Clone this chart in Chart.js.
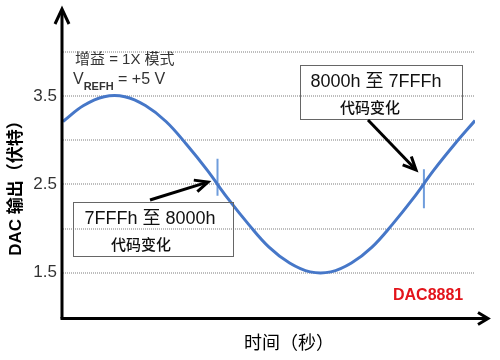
<!DOCTYPE html>
<html><head><meta charset="utf-8">
<script src="https://cdn.jsdelivr.net/npm/chart.js@4.4.1/dist/chart.umd.min.js"></script>
<style>html,body{margin:0;padding:0;background:#fff}#wrap{width:500px;height:360px}</style>
</head><body><div id="wrap"><canvas id="c" width="500" height="360"></canvas></div>
<script>
// Data
const times = [0,0.5,1,1.5,2,2.5,3,3.5,4,4.5,5,5.5,6,6.5,7,7.5,8,8.5,9,9.5,10];
const dacOut = [3.21,3.39,3.49,3.49,3.39,3.21,2.95,2.66,2.34,2.05,1.79,1.61,1.51,1.51,1.61,1.79,2.05,2.34,2.66,2.95,3.22];
const markTimes = [3.75, 8.76];
const markTop = [2.79, 2.67];
const markBottom = [2.37, 2.23];
const tickValues = [1.5, 2.0, 2.5, 3.0, 3.5, 4.0];
const tickLabels = ['1.5', '', '2.5', '', '3.5', ''];
const yTitle = 'DAC 输出（伏特）';
const xTitle = '时间（秒）';
const note1 = ['增益 = 1X 模式', 'V', 'REFH', ' = +5 V'];
const box1 = ['7FFFh 至 8000h', '代码变化'];
const box2 = ['8000h 至 7FFFh', '代码变化'];
const brand = 'DAC8881';

const curve = times.map((t, i) => ({x: t, y: dacOut[i]}));
const marks = [];
markTimes.forEach((t, i) => {
  marks.push({x: t, y: markTop[i]}, {x: t, y: markBottom[i]}, {x: t, y: null});
});

const LAT = '"Liberation Sans", Arial, sans-serif';
const MIX = '"Liberation Sans", "Noto Sans CJK SC", sans-serif';
const CJK = '"Noto Sans CJK SC", "Liberation Sans", sans-serif';

function arrow(ctx, x1, y1, x2, y2, head, half) {
  const a = Math.atan2(y2 - y1, x2 - x1);
  ctx.beginPath();
  ctx.moveTo(x1, y1);
  ctx.lineTo(x2 - Math.cos(a) * 3, y2 - Math.sin(a) * 3);
  ctx.stroke();
  ctx.beginPath();
  const bx = x2 - Math.cos(a) * head, by = y2 - Math.sin(a) * head;
  ctx.moveTo(bx - Math.sin(a) * half, by + Math.cos(a) * half);
  ctx.lineTo(x2, y2);
  ctx.lineTo(bx + Math.sin(a) * half, by - Math.cos(a) * half);
  ctx.stroke();
}

const decor = {
  id: 'decor',
  afterDatasetsDraw(chart) {
    const ctx = chart.ctx, ca = chart.chartArea;
    ctx.save();
    // axes
    ctx.strokeStyle = '#000'; ctx.lineWidth = 3; ctx.lineCap = 'butt'; ctx.lineJoin = 'miter';
    ctx.beginPath(); ctx.moveTo(ca.left - 1, ca.bottom + 1.5); ctx.lineTo(ca.left - 1, 10); ctx.stroke();
    ctx.beginPath(); ctx.moveTo(ca.left - 1 - 7, 24); ctx.lineTo(ca.left - 1, 9); ctx.lineTo(ca.left - 1 + 7, 24); ctx.stroke();
    ctx.beginPath(); ctx.moveTo(ca.left - 2.5, ca.bottom + 1.5); ctx.lineTo(486, ca.bottom + 1.5); ctx.stroke();
    ctx.beginPath(); ctx.moveTo(478, ca.bottom + 1.5 - 6); ctx.lineTo(488, ca.bottom + 1.5); ctx.lineTo(478, ca.bottom + 1.5 + 6); ctx.stroke();

    // titles
    ctx.fillStyle = '#000';
    ctx.textAlign = 'center'; ctx.textBaseline = 'middle';
    ctx.font = '18px ' + CJK;
    ctx.fillText(xTitle, 289, 342);
    ctx.save();
    ctx.translate(16, 184); ctx.rotate(-Math.PI / 2);
    ctx.font = 'bold 17px ' + MIX;
    ctx.fillText(yTitle, 0, 0);
    ctx.restore();

    // note
    ctx.fillStyle = '#333';
    ctx.textAlign = 'left'; ctx.textBaseline = 'alphabetic';
    ctx.font = '15px ' + MIX;
    ctx.fillText(note1[0], 75, 64);
    ctx.font = '16px ' + LAT;
    ctx.fillText(note1[1], 73, 84);
    let w = ctx.measureText(note1[1]).width;
    ctx.font = 'bold 11px ' + LAT;
    ctx.fillText(note1[2], 73 + w, 90);
    w += ctx.measureText(note1[2]).width;
    ctx.font = '16px ' + LAT;
    ctx.fillText(note1[3], 73 + w, 84);

    // boxes
    ctx.strokeStyle = '#666'; ctx.lineWidth = 1;
    ctx.strokeRect(73.5, 202.5, 160, 54);
    ctx.strokeRect(300.5, 65.5, 162, 54);
    ctx.fillStyle = '#111';
    ctx.textAlign = 'center'; ctx.textBaseline = 'middle';
    ctx.font = '18px ' + MIX;
    ctx.fillText(box1[0], 150, 219);
    ctx.fillText(box2[0], 376, 82);
    ctx.font = '500 15px ' + CJK;
    ctx.fillText(box1[1], 141, 244);
    ctx.fillText(box2[1], 370, 107);

    // arrows
    ctx.strokeStyle = '#000'; ctx.lineWidth = 3;
    arrow(ctx, 150, 200, 208, 182, 13, 6);
    arrow(ctx, 368, 120, 416, 170, 13, 6);

    // brand
    ctx.fillStyle = '#e3141b';
    ctx.font = 'bold 16px ' + LAT;
    ctx.textAlign = 'left';
    ctx.fillText(brand, 393, 296);
    ctx.restore();
  }
};

new Chart(document.getElementById('c'), {
  type: 'scatter',
  data: {
    datasets: [
      {data: curve, showLine: true, borderColor: '#4677c8', borderWidth: 3, pointRadius: 0, tension: 0.4, fill: false},
      {data: marks, showLine: true, spanGaps: false, borderColor: '#6f9ddc', borderWidth: 2, pointRadius: 0, fill: false}
    ]
  },
  options: {
    responsive: false, animation: false, devicePixelRatio: 1,
    layout: {padding: {left: 0, right: 25, top: 11, bottom: 0}},
    plugins: {legend: {display: false}, tooltip: {enabled: false}},
    scales: {
      x: {
        type: 'linear', min: 0, max: 10,
        ticks: {display: false},
        grid: {display: false},
        border: {display: false},
        afterFit(s) { s.height = 43; }
      },
      y: {
        min: 1.0, max: 4.4,
        afterBuildTicks(s) { s.ticks = tickValues.map(v => ({value: v})); },
        ticks: {
          callback: (v) => { const i = tickValues.indexOf(v); return i >= 0 ? tickLabels[i] : ''; },
          color: '#333', font: {family: LAT, size: 17}, padding: 6
        },
        grid: {color: '#bdbdbd', lineWidth: 2, drawTicks: false},
        border: {display: false, dash: [1, 1]},
        afterFit(s) { s.width = 63; }
      }
    }
  },
  plugins: [decor]
});
</script>
</body></html>
